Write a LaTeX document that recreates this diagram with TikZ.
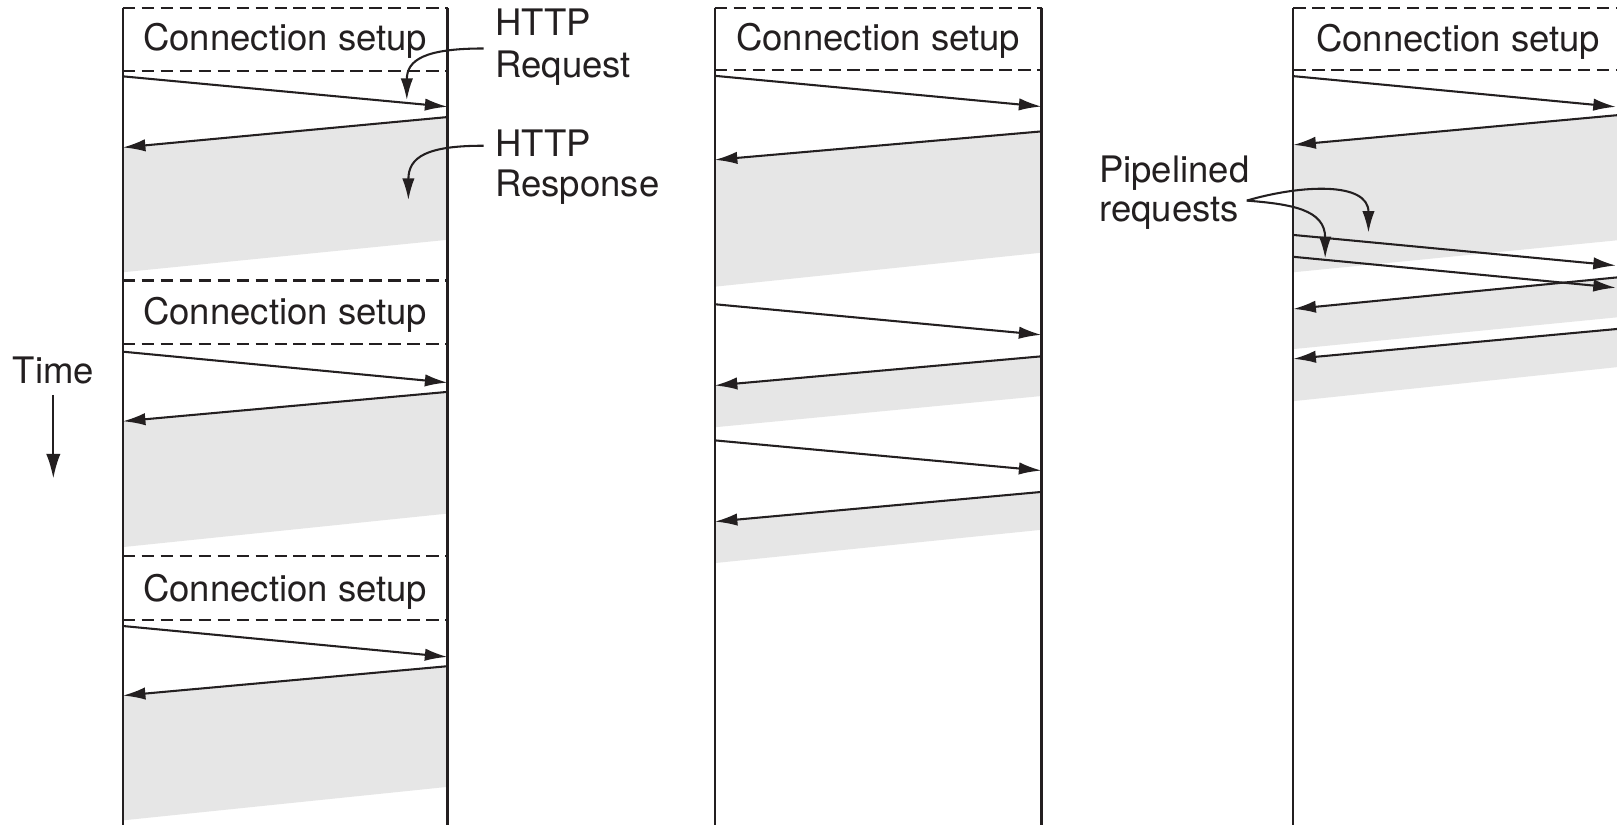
\documentclass[tikz,border=0pt]{standalone}
\usepackage{fontspec}
\setmainfont{TeX Gyre Heros}
\usetikzlibrary{arrows.meta}
\definecolor{ink}{HTML}{231F20}
\definecolor{respgray}{HTML}{E6E6E6}
\newcommand\lblfont{\fontsize{17.7}{21}\selectfont}
\begin{document}
\begin{tikzpicture}[x=0.5pt,y=-0.5pt,
  lifeline/.style={draw=ink,line width=1.1pt},
  cssep/.style={draw=ink,line width=1pt,dash pattern=on 6pt off 3.2pt},
  msgarrow/.style={draw=ink,line width=1pt,-{Latex[length=11pt,width=6pt]}},
  leader/.style={draw=ink,line width=1pt,-{Latex[length=10.5pt,width=6pt]}},
  timearrow/.style={draw=ink,line width=1.1pt,-{Latex[length=12pt,width=7pt]}},
  labeltext/.style={font=\lblfont,text=ink,inner sep=0pt,anchor=base west},
  cstext/.style={font=\lblfont,text=ink,inner sep=0pt,anchor=base}]
\useasboundingbox (0,0) rectangle (1568,800);
\fill[white] (0,0) rectangle (1568,800);

% shaded response intervals
\foreach \xl/\xr/\ya/\yb/\yc/\yd in {
  119/434/113.5/143/232.5/264,
  119/434/380/408.5/498/530.5,
  119/434/646/674.5/763/795.5,
  693/1010/127.4/155/245/278,
  693/1010/345.5/373.8/384/414.3,
  693/1010/477/505.8/513.7/546,
  1254/1568/111.7/140.5/233/264,
  1254/1568/269/299.6/307.7/338.5,
  1254/1568/319/348/356/389}
  {\fill[respgray] (\xl,\yb) -- (\xr,\ya) -- (\xr,\yc) -- (\xl,\yd) -- cycle;}

% lifelines
\foreach \n/\x/\y in {a/119/8, b/434/8, c/693/7.5, d/1010/7.5, e/1254/7.5}
  {\coordinate (\n top) at (\x,\y); \coordinate (\n bot) at (\x,800);
   \draw[lifeline] (\n top) -- (\n bot);}

% dashed connection-setup separators
\foreach \n/\xl/\xr/\y in {s1/119/434/8, s2/119/434/69, s3/119/434/272, s4/119/434/333.5,
  s5/119/434/539.5, s6/119/434/601, s7/693/1010/7.5, s8/693/1010/67.5,
  s9/1254/1568/7.5, s10/1254/1568/67.5}
  {\coordinate (\n l) at (\xl,\y); \coordinate (\n r) at (\xr,\y);
   \draw[cssep] (\n l) -- (\n r);}

% connection setup labels
\node[cstext] (cs1) at (276.5,49) {Connection setup};
\node[cstext] (cs2) at (276.5,315) {Connection setup};
\node[cstext] (cs3) at (276.5,583) {Connection setup};
\node[cstext] (cs4) at (851.5,49) {Connection setup};
\node[cstext] (cs5) at (1414,50) {Connection setup};

% messages
\foreach \n/\xa/\ya/\xb/\yb in {
  q11/119/74/434/103.5, r11/434/113.5/119/143,
  q12/119/341/434/371, r12/434/380/119/408.5,
  q13/119/607/434/637, r13/434/646/119/674.5,
  q21/693/73.5/1010/103.3, r21/1010/127.4/693/155,
  q22/693/295/1010/324.7, r22/1010/345.5/693/373.8,
  q23/693/427/1010/456.3, r23/1010/477/693/505.8,
  q31/1254/73.8/1567/103.6, r31/1568/111.7/1254/140.5,
  q32/1254/227.8/1567/257.5, q33/1254/249/1567/279,
  r32/1568/269/1254/299.6, r33/1568/319/1254/348}
  {\coordinate (\n a) at (\xa,\ya); \coordinate (\n b) at (\xb,\yb);
   \draw[msgarrow] (\n a) -- (\n b);}

% HTTP labels
\node[labeltext] (h1) at (480,34) {HTTP};
\node[labeltext] (rq) at (480,75) {Request};
\node[labeltext] (h2) at (480,152) {HTTP};
\node[labeltext] (rs) at (480,190.5) {Response};
\coordinate (rqs) at (469,47);
\coordinate (rqe) at (394.5,97);
\coordinate (rss) at (469,141.3);
\coordinate (rse) at (396,194);
\draw[leader] (rqs) .. controls (412,47) and (394.5,58) .. (rqe);
\draw[leader] (rss) .. controls (414,141.3) and (396,152) .. (rse);

% pipelined requests label
\node[labeltext] (pl1) at (1065.5,177) {Pipelined};
\node[labeltext] (pl2) at (1065.5,214.3) {requests};
\coordinate (pls) at (1209,194.5);
\coordinate (ple1) at (1327,225.6);
\coordinate (ple2) at (1285,250.5);
\draw[leader] (pls) .. controls (1262,179) and (1327,176) .. (ple1);
\draw[leader] (pls) .. controls (1252,198) and (1285,203) .. (ple2);

% time axis
\node[labeltext] (time) at (12,371.7) {Time};
\coordinate (ta) at (51.7,383);
\coordinate (tb) at (51.7,464);
\draw[timearrow] (ta) -- (tb);
\end{tikzpicture}
\end{document}
